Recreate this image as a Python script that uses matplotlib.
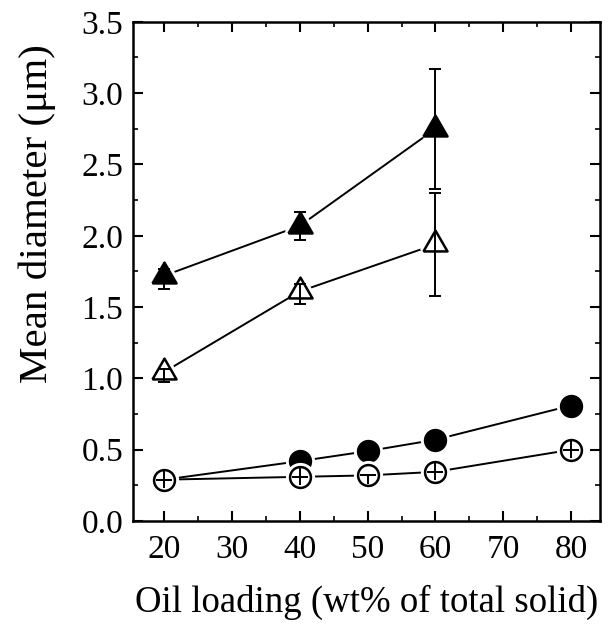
import matplotlib
matplotlib.use("Agg")
import matplotlib.pyplot as plt
from matplotlib.ticker import MultipleLocator, FormatStrFormatter

# oil loading (wt% of total solid)
x_tri = [20, 40, 60]
x_circ = [20, 40, 50, 60, 80]

# mean diameters (um)
tri_filled = [1.72, 2.07, 2.75]
tri_filled_err = [[0.09, 0.10, 0.42], [0.05, 0.10, 0.42]]
tri_open = [1.045, 1.61, 1.94]
tri_open_err = [[0.07, 0.09, 0.36], [0.02, 0.05, 0.36]]
circ_filled = [0.29, 0.42, 0.49, 0.57, 0.81]
circ_open = [0.29, 0.31, 0.32, 0.345, 0.50]
circ_open_err = [[0.06, 0.06, 0.06, 0.06, 0.06], [0.06, 0.06, 0.0, 0.06, 0.06]]

plt.rcParams['font.family'] = 'Liberation Serif'

fig = plt.figure(figsize=(6.07, 6.24), dpi=100)
ax = fig.add_axes([0.219, 0.165, 0.77, 0.8])

# equilateral triangle centred on its centroid
tri = [(-1, -0.577), (1, -0.577), (0, 1.155), (-1, -0.577)]


def series(x, y, marker, ms, filled, yerr=None, z=0, caps=4):
    ax.plot(x, y, '-', color='k', lw=1.4, zorder=2)
    # white ring to open a gap between the line and the symbol
    ax.plot(x, y, ls='none', marker=marker, ms=ms, mfc='none', mec='white',
            mew=6, zorder=3 + z)
    ax.plot(x, y, ls='none', marker=marker, ms=ms,
            mfc='k' if filled else 'white', mec='k', mew=1.8, zorder=4 + z)
    if yerr is not None:
        ax.errorbar(x, y, yerr=yerr, fmt='none', ecolor='k', elinewidth=1.4,
                    capsize=caps, capthick=1.4, zorder=4.5 + z)


series(x_circ, circ_filled, 'o', 15, True)
series(x_circ, circ_open, 'o', 15, False, circ_open_err, z=2, caps=0)
# centre bar of the open circles
ax.errorbar(x_circ, circ_open, yerr=0, fmt='none', ecolor='k',
            elinewidth=0, capsize=5.5, capthick=1.4, zorder=6.5)
series(x_tri, tri_filled, tri, 20, True, tri_filled_err)
series(x_tri, tri_open, tri, 20, False, tri_open_err, z=2)

ax.set_xlim(15.4, 84.3)
ax.set_ylim(0, 3.5)
ax.xaxis.set_major_locator(MultipleLocator(10))
ax.xaxis.set_minor_locator(MultipleLocator(5))
ax.yaxis.set_major_locator(MultipleLocator(0.5))
ax.yaxis.set_minor_locator(MultipleLocator(0.25))
ax.yaxis.set_major_formatter(FormatStrFormatter('%.1f'))

for s in ax.spines.values():
    s.set_linewidth(1.8)
ax.tick_params(which='major', direction='in', length=7, width=1.5,
               labelsize=24, top=True, right=True, pad=7)
ax.tick_params(axis='x', which='major', pad=10)
ax.tick_params(which='minor', direction='in', length=3.5, width=1.2,
               top=True, right=True)

ax.set_xlabel('Oil loading (wt% of total solid)', fontsize=26.5, labelpad=14)
ax.set_ylabel('Mean diameter (μm)', fontsize=29.5)
ax.yaxis.set_label_coords(-0.165, 0.615)

fig.savefig('out.png', dpi=100)
